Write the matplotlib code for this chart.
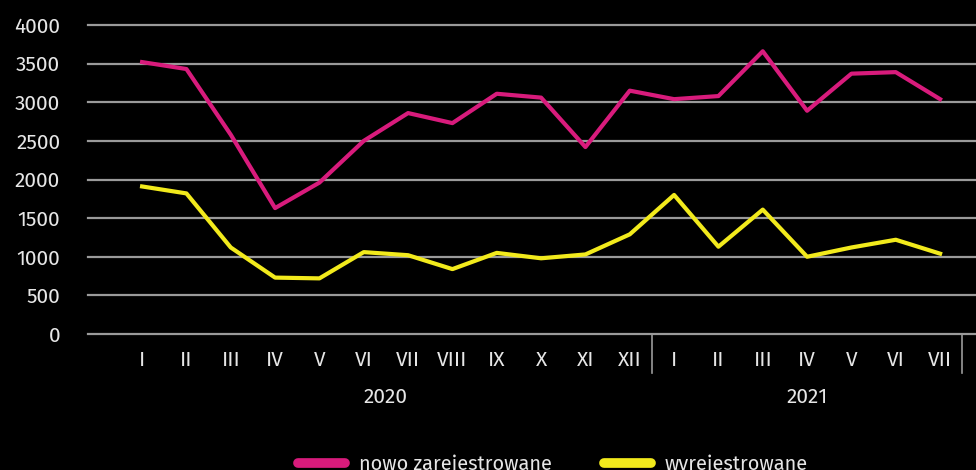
import matplotlib
matplotlib.use("Agg")
import matplotlib.pyplot as plt
import matplotlib.transforms as mtransforms

months = ["I", "II", "III", "IV", "V", "VI", "VII", "VIII", "IX", "X", "XI", "XII",
          "I", "II", "III", "IV", "V", "VI", "VII"]
years = ["2020", "2021"]
year_sizes = [12, 7]

nowo = [3520, 3430, 2580, 1630, 1960, 2500, 2860, 2730, 3110, 3060, 2420, 3150,
        3040, 3080, 3660, 2890, 3370, 3390, 3040]
wyrej = [1910, 1820, 1120, 730, 720, 1060, 1020, 840, 1050, 980, 1030, 1290,
         1800, 1130, 1610, 1000, 1120, 1220, 1040]

MAGENTA = "#d81b7c"
YELLOW = "#f2ea1c"
GRID = "#9a9a9a"
TEXT = "#e6e6e6"

plt.rcParams["font.family"] = ["Fira Sans", "Fira Sans Condensed", "DejaVu Sans"]

fig = plt.figure(figsize=(9.76, 4.70), dpi=100, facecolor="black")
ax = fig.add_axes([88 / 976, 136 / 470, 888 / 976, 309 / 470])
ax.set_facecolor("black")

x = list(range(len(months)))
ax.plot(x, nowo, color=MAGENTA, lw=3, label="nowo zarejestrowane", zorder=3)
ax.plot(x, wyrej, color=YELLOW, lw=3, label="wyrejestrowane", zorder=3)

ax.set_ylim(0, 4000)
ax.set_xlim(-1.22, 18.81)
ax.set_yticks(range(0, 4001, 500))
ax.yaxis.grid(True, color=GRID, lw=1.6)
for gl in ax.yaxis.get_gridlines():
    gl.set_clip_on(False)
ax.set_axisbelow(True)
for s in ax.spines.values():
    s.set_visible(False)

ax.set_xticks(x)
ax.set_xticklabels(months)
ax.tick_params(axis="x", length=0, pad=12, colors=TEXT, labelsize=15)
ax.tick_params(axis="y", length=0, pad=20, colors=TEXT, labelsize=15)

trans = mtransforms.blended_transform_factory(ax.transData, ax.transAxes)
start = 0
for yr, n in zip(years, year_sizes):
    ax.text(start + (n - 1) / 2, -0.205, yr, transform=trans, ha="center", va="center",
            color=TEXT, fontsize=15)
    end = start + n - 0.5
    ax.plot([end, end], [0, -0.125], transform=trans, color=GRID, lw=1.2, clip_on=False)
    start += n

leg = fig.legend(loc="center", bbox_to_anchor=(553 / 976, 6 / 470), ncol=2, frameon=False,
                 fontsize=14.4, handlelength=2.35, columnspacing=2.6, handletextpad=0.7)
for line in leg.get_lines():
    line.set_linewidth(7)
    line.set_solid_capstyle("round")
for t in leg.get_texts():
    t.set_color(TEXT)

fig.savefig("out.png", dpi=100, facecolor="black")
